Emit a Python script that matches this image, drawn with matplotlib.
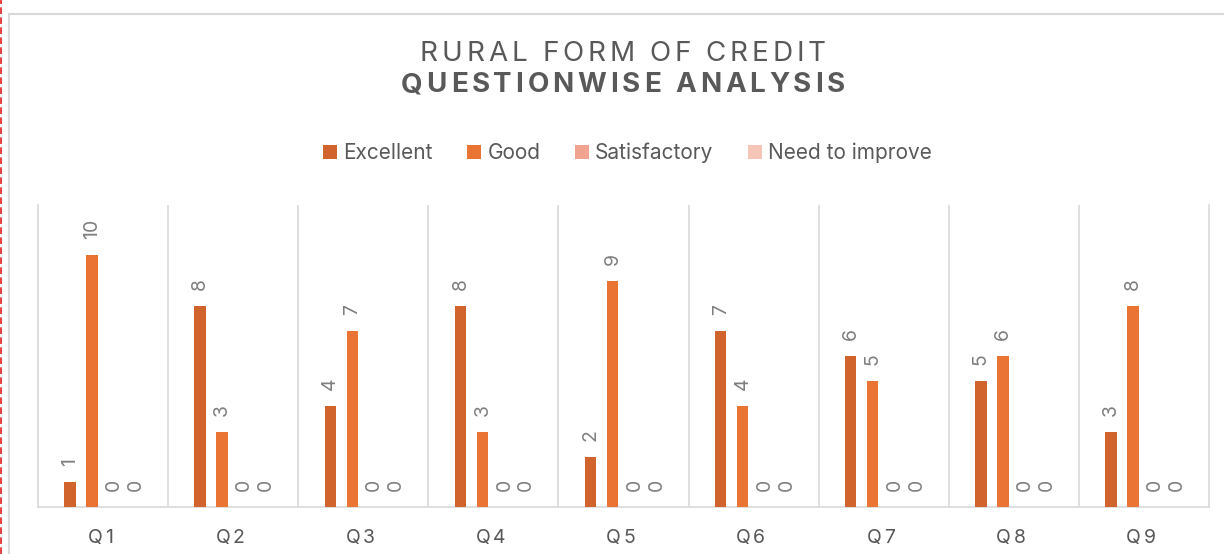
import matplotlib.pyplot as plt
import numpy as np
from matplotlib.lines import Line2D
from matplotlib.patches import Rectangle
from matplotlib.font_manager import FontProperties

plt.rcParams["font.family"] = ["Inter", "DejaVu Sans"]

# data
questions = ["Q1", "Q2", "Q3", "Q4", "Q5", "Q6", "Q7", "Q8", "Q9"]
excellent = [1, 8, 4, 8, 2, 7, 6, 5, 3]
good = [10, 3, 7, 3, 9, 4, 5, 6, 8]
satisfactory = [0, 0, 0, 0, 0, 0, 0, 0, 0]
need_improve = [0, 0, 0, 0, 0, 0, 0, 0, 0]

series = [("Excellent", excellent, "#D1632D"),
          ("Good", good, "#EA7434"),
          ("Satisfactory", satisfactory, "#F0A38E"),
          ("Need to improve", need_improve, "#F5C6B8")]

W, H = 1224, 554
fig = plt.figure(figsize=(W / 100, H / 100), dpi=100)
ax = fig.add_axes([38 / W, 1 - 507 / H, 1171 / W, 302 / H])
renderer = fig.canvas.get_renderer()


def spaced_text(xc, ybase, s, size, weight="normal", spacing=None, width=None,
                color="#595959", shift=0):
    # draw text letter by letter to get Excel-like letter spacing (pixel coords)
    fp = FontProperties(family=["Inter", "DejaVu Sans"], size=size, weight=weight)
    ws = []
    for c in s:
        if c == " ":
            ws.append(size * 0.35)
        else:
            ws.append(renderer.get_text_width_height_descent(c, fp, ismath=False)[0])
    if width is not None:
        spacing = (width - sum(ws)) / (len(s) - 1)
    total = sum(ws) + spacing * (len(s) - 1)
    x = xc - total / 2 + shift
    for c, w in zip(s, ws):
        if c != " ":
            fig.text(x / W, 1 - ybase / H, c, ha="left", va="baseline",
                     fontproperties=fp, color=color)
        x += w + spacing


x = np.arange(len(questions))
step = 0.169
width = 0.088
for i, (name, vals, col) in enumerate(series):
    pos = x + (i - 1.5) * step
    bars = ax.bar(pos, vals, width, color=col, label=name, zorder=3)
    for b, v in zip(bars, vals):
        ax.annotate(str(v), (b.get_x() + b.get_width() / 2, b.get_height()),
                    xytext=(0, 11.5), textcoords="offset points", rotation=90,
                    ha="center", va="bottom", fontsize=14, color="#7F7F7F")

ax.set_xlim(-0.5, len(questions) - 0.5)
ax.set_ylim(0, 12)
for b in np.arange(0.5, len(questions) - 0.5):
    ax.axvline(b, color="#D9D9D9", lw=1.2, zorder=1)
ax.spines["top"].set_visible(False)
for s in ["left", "right", "bottom"]:
    ax.spines[s].set_color("#D9D9D9")
    ax.spines[s].set_linewidth(1.2)
ax.set_yticks([])
ax.set_xticks([])

# category labels with letter spacing
for i, q in enumerate(questions):
    px = ax.transData.transform((i, 0))[0]
    spaced_text(px, 543, q, 14, spacing=2.5, shift=-3)

# titles
spaced_text(623, 61, "RURAL FORM OF CREDIT", 20, width=406)
spaced_text(623, 92, "QUESTIONWISE ANALYSIS", 20, weight="bold", width=444)

fig.legend(loc="center", bbox_to_anchor=(627.5 / W, 1 - 153 / H), ncol=4, frameon=False,
           fontsize=15, labelcolor="#595959", handlelength=0.67, handleheight=0.67,
           handletextpad=0.3, columnspacing=1.65)

# outer chart frame and screenshot edge
fig.add_artist(Rectangle((9 / W, -0.01), 1.02, 1 - 14 / H + 0.01, transform=fig.transFigure,
                         fill=False, edgecolor="#D9D9D9", lw=1.5))
fig.add_artist(Line2D([1 / W, 1 / W], [0, 1], transform=fig.transFigure,
                      color="#E02020", lw=1.2, linestyle=(0, (4, 2))))

fig.savefig("out.png", dpi=100)
